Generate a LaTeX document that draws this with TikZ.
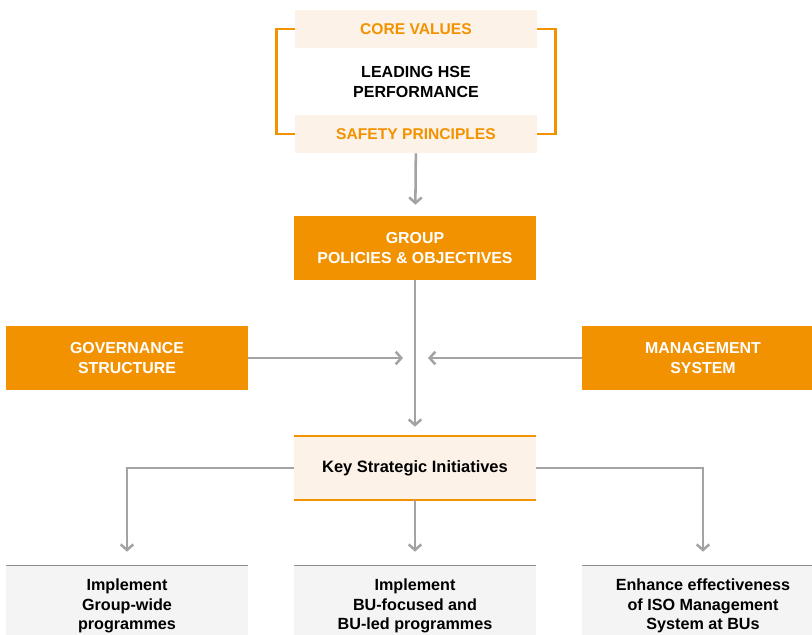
\documentclass[tikz,border=0pt]{standalone}
\usepackage{fontspec}
\setmainfont{Liberation Sans}
\usetikzlibrary{arrows.meta,positioning}
\definecolor{hseorange}{HTML}{F39200}
\definecolor{hsepeach}{HTML}{FDF2E8}
\definecolor{hsegray}{HTML}{A3A3A3}
\definecolor{hselight}{HTML}{F4F4F4}
\definecolor{hseline}{HTML}{8C8C8C}
\tikzset{
    value/.style = {
        fill = hsepeach,
        text = hseorange,
        font = \bfseries\fontsize{11.1}{14}\selectfont,
        minimum width = 6.05cm,
        minimum height = 0.95cm,
        inner sep = 0pt,
        },
    pillar/.style = {
        fill = hseorange,
        text = white,
        align = center,
        font = \bfseries\fontsize{11.3}{14}\selectfont,
        minimum width = 6.05cm,
        minimum height = 1.6cm,
        inner sep = 0pt,
        },
    initiative/.style = {
        fill = hsepeach,
        font = \bfseries\fontsize{11.7}{14}\selectfont,
        minimum width = 6.05cm,
        minimum height = 1.6cm,
        inner sep = 0pt,
        },
    outcome/.style = {
        fill = hselight,
        align = center,
        font = \bfseries\fontsize{11.5}{14}\selectfont,
        minimum width = 6.05cm,
        minimum height = 2cm,
        inner sep = 0pt,
        },
    flow/.style = {
        draw = hsegray,
        line width = 1.8pt,
        -{Straight Barb[length=4pt,width=9pt,line width=1.8pt]},
        },
    bracket/.style = {
        draw = hseorange,
        line width = 1.8pt,
        },
}
\begin{document}
\begin{tikzpicture}[x=0.025cm, y=-0.025cm]
    \useasboundingbox (0,0) rectangle (812,634);
    \node[value] (core) at (416,29) {CORE VALUES};
    \node[value] (safety) at (416,134) {SAFETY PRINCIPLES};
    \node[font=\bfseries\fontsize{11.4}{14}\selectfont, align=center] (lead) at (416,82) {LEADING HSE\\PERFORMANCE};
    \node[pillar] (group) at (415,248) {GROUP\\POLICIES \& OBJECTIVES};
    \node[pillar] (gov) at (127,358) {GOVERNANCE\\STRUCTURE};
    \node[pillar] (mgmt) at (703,358) {MANAGEMENT\\SYSTEM};
    \node[initiative] (key) at (415,468) {Key Strategic Initiatives};
    \node[outcome] (wide) at (127,606) {Implement\\Group-wide\\programmes};
    \node[outcome] (led) at (415,606) {Implement\\BU-focused and\\BU-led programmes};
    \node[outcome] (iso) at (703,606) {Enhance effectiveness\\of ISO Management\\System at BUs};
    \coordinate (hub) at (415,358);

    % brackets round the values
    \draw[bracket] (core.west) -- ++(-18,0) |- (safety.west);
    \draw[bracket] (core.east) -- ++(18,0) |- (safety.east);

    \draw[hseorange, line width=1.2pt] (key.north west) -- (key.north east);
    \draw[hseorange, line width=1.2pt] (key.south west) -- (key.south east);
    \draw[hseline] (wide.north west) -- (wide.north east);
    \draw[hseline] (led.north west) -- (led.north east);
    \draw[hseline] (iso.north west) -- (iso.north east);

    \path[flow, shorten >=11*0.025cm] (safety) edge (group);
    \path[flow, shorten >=9*0.025cm] (group) edge (key);
    \path[flow, shorten >=12*0.025cm] (gov) edge (hub);
    \path[flow, shorten >=13*0.025cm] (mgmt) edge (hub);
    \draw[flow, shorten >=14*0.025cm] (key.west) -| (wide.north);
    \draw[flow, shorten >=14*0.025cm] (key) -- (led);
    \draw[flow, shorten >=14*0.025cm] (key.east) -| (iso.north);
\end{tikzpicture}
\end{document}
